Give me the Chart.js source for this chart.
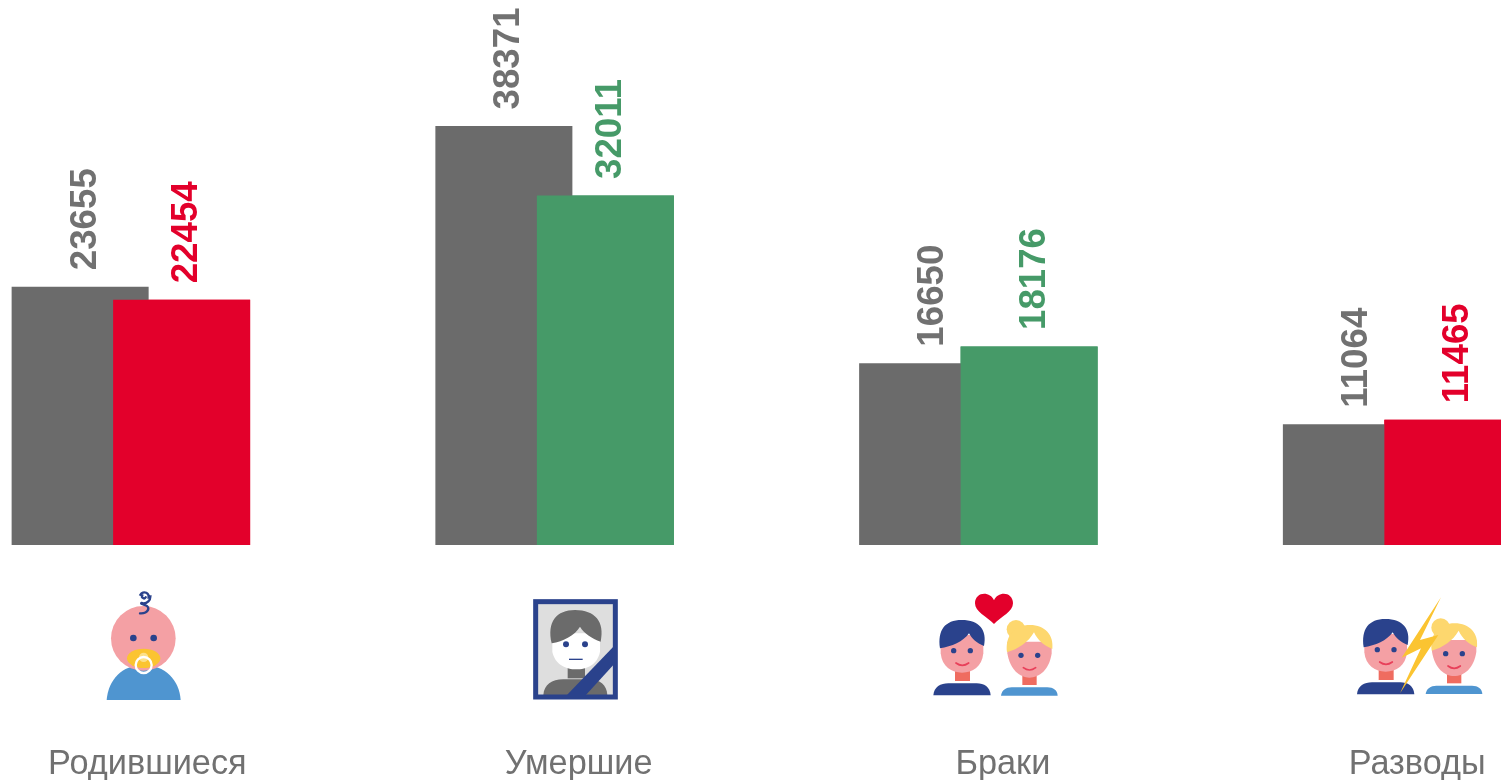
<!DOCTYPE html>
<html>
<head>
<meta charset="utf-8">
<style>
  html, body { margin: 0; padding: 0; width: 1501px; height: 780px; overflow: hidden; background: #fff; }
  #chart { position: absolute; left: -81px; top: -1px; }
</style>
</head>
<body>
<canvas id="chart" width="1695" height="781"></canvas>
<script src="https://cdn.jsdelivr.net/npm/chart.js@4"></script>
<script>
// data
const categories = ["Родившиеся", "Умершие", "Браки", "Разводы"];
const previousValues = [23655, 38371, 16650, 11064];
const currentValues = [22454, 32011, 18176, 11465];

const GREY = "#6b6b6b";
const GREY_TEXT = "#717171";
const RED = "#e3002b";
const GREEN = "#469a68";
const NAVY = "#2a428c";
const BLUE = "#4f95d0";
const SKIN = "#f4a0a4";
const NECK = "#ef6c60";
const YELLOW = "#fbc431";
const BLOND = "#fdd76e";

const currentColors = [RED, GREEN, GREEN, RED];
const labelShift = [16.5, 24, 24.5, 15];

// small helpers for the icons, which are drawn in 3x units
function shape(ctx, color, draw) {
  ctx.fillStyle = color;
  ctx.beginPath();
  draw();
  ctx.fill();
}

function dot(ctx, color, x, y, r) {
  shape(ctx, color, () => ctx.arc(x, y, r, 0, Math.PI * 2));
}

function smile(ctx, x1, x2, y) {
  ctx.strokeStyle = "#e8405a";
  ctx.lineWidth = 5;
  ctx.lineCap = "round";
  ctx.beginPath();
  ctx.moveTo(x1, y);
  ctx.quadraticCurveTo((x1 + x2) / 2, y + 14, x2, y);
  ctx.stroke();
}

function drawMan(ctx) {
  shape(ctx, NECK, () => ctx.rect(105, 255, 45, 33));
  shape(ctx, NAVY, () => {
    ctx.moveTo(40, 331);
    ctx.bezierCurveTo(42, 305, 62, 295, 85, 295);
    ctx.lineTo(170, 295);
    ctx.bezierCurveTo(192, 295, 210, 305, 212, 331);
    ctx.closePath();
  });
  shape(ctx, SKIN, () => {
    ctx.moveTo(62, 150);
    ctx.lineTo(62, 205);
    ctx.bezierCurveTo(66, 245, 95, 263, 126, 263);
    ctx.bezierCurveTo(158, 263, 186, 245, 190, 205);
    ctx.lineTo(190, 150);
    ctx.closePath();
  });
  shape(ctx, NAVY, () => {
    ctx.moveTo(60, 190);
    ctx.bezierCurveTo(52, 135, 75, 105, 125, 105);
    ctx.bezierCurveTo(178, 105, 202, 135, 192, 183);
    ctx.bezierCurveTo(170, 175, 155, 160, 147, 145);
    ctx.bezierCurveTo(130, 170, 95, 185, 60, 190);
    ctx.closePath();
  });
  dot(ctx, NAVY, 101, 197, 8);
  dot(ctx, NAVY, 151, 197, 8);
  smile(ctx, 108, 146, 234);
}

function drawWoman(ctx) {
  shape(ctx, NECK, () => ctx.rect(307, 268, 43, 32));
  shape(ctx, BLUE, () => {
    ctx.moveTo(243, 332);
    ctx.bezierCurveTo(245, 316, 258, 307, 275, 307);
    ctx.lineTo(382, 307);
    ctx.bezierCurveTo(400, 307, 412, 316, 413, 332);
    ctx.closePath();
  });
  shape(ctx, SKIN, () => {
    ctx.moveTo(262, 170);
    ctx.lineTo(262, 205);
    ctx.bezierCurveTo(270, 255, 300, 278, 328, 278);
    ctx.bezierCurveTo(358, 278, 388, 255, 395, 205);
    ctx.lineTo(395, 170);
    ctx.closePath();
  });
  dot(ctx, BLOND, 288, 133, 28);
  shape(ctx, BLOND, () => {
    ctx.moveTo(261, 202);
    ctx.bezierCurveTo(255, 150, 285, 120, 330, 120);
    ctx.bezierCurveTo(375, 120, 402, 150, 397, 192);
    ctx.bezierCurveTo(372, 182, 352, 165, 342, 142);
    ctx.bezierCurveTo(325, 172, 295, 192, 261, 202);
    ctx.closePath();
  });
  dot(ctx, NAVY, 303, 211, 8);
  dot(ctx, NAVY, 353, 211, 8);
  smile(ctx, 310, 347, 248);
}

function drawBaby(ctx) {
  shape(ctx, BLUE, () => {
    ctx.moveTo(50, 360);
    ctx.bezierCurveTo(55, 300, 95, 255, 160, 255);
    ctx.bezierCurveTo(225, 255, 268, 300, 272, 360);
    ctx.closePath();
  });
  dot(ctx, SKIN, 160, 175, 97);
  dot(ctx, NAVY, 130, 174, 10);
  dot(ctx, NAVY, 191, 174, 10);
  // pacifier
  shape(ctx, YELLOW, () => ctx.ellipse(161, 235, 50, 29, 0, 0, Math.PI * 2));
  dot(ctx, "#fce08a", 161, 232, 14);
  ctx.strokeStyle = "#fff";
  ctx.lineWidth = 7;
  ctx.beginPath();
  ctx.arc(161, 255, 24, 0, Math.PI * 2);
  ctx.stroke();
  // curl
  ctx.strokeStyle = NAVY;
  ctx.lineWidth = 7;
  ctx.lineCap = "round";
  ctx.beginPath();
  ctx.arc(162, 49, 6, 0.5, 3.6);
  ctx.arc(163, 50, 13, 3.6, 6.4);
  ctx.arc(161, 50, 20, 0, 1.9);
  ctx.bezierCurveTo(148, 74, 174, 72, 175, 85);
  ctx.bezierCurveTo(175, 97, 160, 101, 150, 100);
  ctx.stroke();
}

function drawPortrait(ctx) {
  shape(ctx, "#dedede", () => ctx.rect(47, 35, 239, 286));
  shape(ctx, "#6b6b6b", () => {
    ctx.moveTo(70, 315);
    ctx.bezierCurveTo(72, 285, 95, 268, 130, 268);
    ctx.lineTo(205, 268);
    ctx.bezierCurveTo(240, 268, 260, 285, 262, 315);
    ctx.closePath();
  });
  shape(ctx, "#6b6b6b", () => ctx.rect(143, 225, 52, 40));
  shape(ctx, "#fff", () => {
    ctx.moveTo(97, 130);
    ctx.lineTo(97, 185);
    ctx.bezierCurveTo(105, 225, 140, 238, 168, 238);
    ctx.bezierCurveTo(200, 238, 232, 225, 240, 185);
    ctx.lineTo(240, 130);
    ctx.closePath();
  });
  shape(ctx, "#6b6b6b", () => {
    ctx.moveTo(95, 160);
    ctx.bezierCurveTo(80, 95, 110, 60, 165, 60);
    ctx.bezierCurveTo(225, 60, 255, 95, 242, 155);
    ctx.bezierCurveTo(215, 145, 192, 130, 180, 110);
    ctx.bezierCurveTo(165, 135, 130, 155, 95, 160);
    ctx.closePath();
  });
  dot(ctx, NAVY, 138, 163, 9);
  dot(ctx, NAVY, 195, 163, 9);
  ctx.strokeStyle = NAVY;
  ctx.lineWidth = 4;
  ctx.beginPath();
  ctx.moveTo(147, 208);
  ctx.lineTo(188, 208);
  ctx.stroke();
  shape(ctx, NAVY, () => {
    ctx.moveTo(138, 318);
    ctx.lineTo(280, 170);
    ctx.lineTo(280, 225);
    ctx.lineTo(195, 318);
    ctx.closePath();
  });
  ctx.strokeStyle = NAVY;
  ctx.lineWidth = 15;
  ctx.strokeRect(47, 35, 239, 286);
}

function drawCouple(ctx) {
  shape(ctx, RED, () => {
    ctx.moveTo(222, 117);
    ctx.bezierCurveTo(200, 95, 165, 80, 165, 55);
    ctx.bezierCurveTo(165, 20, 210, 17, 222, 46);
    ctx.bezierCurveTo(234, 17, 279, 20, 279, 55);
    ctx.bezierCurveTo(279, 80, 244, 95, 222, 117);
    ctx.closePath();
  });
  drawMan(ctx);
  drawWoman(ctx);
}

function drawDivorce(ctx) {
  ctx.save();
  ctx.translate(-4, -18);
  drawMan(ctx);
  ctx.restore();
  ctx.save();
  ctx.translate(-1, -20);
  drawWoman(ctx);
  ctx.restore();
  shape(ctx, YELLOW, () => {
    ctx.moveTo(288, 22);
    ctx.lineTo(170, 203);
    ctx.lineTo(228, 175);
    ctx.lineTo(165, 310);
    ctx.lineTo(280, 135);
    ctx.lineTo(225, 150);
    ctx.closePath();
  });
}

const icons = [
  { x: 90, y: 580, draw: drawBaby },
  { x: 520, y: 590, draw: drawPortrait },
  { x: 920, y: 585, draw: drawCouple },
  { x: 1345, y: 590, draw: drawDivorce }
];

// value labels, icons and category names
const decorations = {
  id: "decorations",
  afterDatasetsDraw(chart) {
    const ctx = chart.ctx;

    // the coloured bars have to sit above the grey ones
    chart.getDatasetMeta(1).controller.draw();

    // rotated value labels
    ctx.save();
    ctx.font = "bold 36.7px 'Liberation Sans'";
    ctx.textAlign = "left";
    ctx.textBaseline = "alphabetic";
    [previousValues, currentValues].forEach((values, d) => {
      chart.getDatasetMeta(d).data.forEach((bar, i) => {
        ctx.save();
        ctx.translate(bar.x + 15.5, bar.y - 16.5);
        ctx.rotate(-Math.PI / 2);
        ctx.fillStyle = d === 0 ? GREY_TEXT : currentColors[i];
        ctx.fillText(values[i], 0, 0);
        ctx.restore();
      });
    });
    ctx.restore();

    // category names
    ctx.save();
    ctx.font = "34.3px 'Liberation Sans'";
    ctx.textAlign = "center";
    ctx.textBaseline = "alphabetic";
    ctx.fillStyle = GREY_TEXT;
    categories.forEach((name, i) => {
      ctx.fillText(name, chart.scales.x.getPixelForValue(i) + labelShift[i], 775);
    });
    ctx.restore();

    // icons, in page position
    icons.forEach(icon => {
      ctx.save();
      ctx.translate(81 + icon.x, 1 + icon.y);
      ctx.scale(1 / 3, 1 / 3);
      icon.draw(ctx);
      ctx.restore();
    });
  }
};

new Chart(document.getElementById("chart"), {
  type: "bar",
  data: {
    labels: categories,
    datasets: [
      { data: previousValues, backgroundColor: GREY },
      { data: currentValues, backgroundColor: currentColors }
    ]
  },
  options: {
    responsive: false,
    animation: false,
    // wider than one slot on purpose, so the two bars overlap
    datasets: { bar: { categoryPercentage: 0.479, barPercentage: 1.35 } },
    layout: { padding: { bottom: 235 } },
    plugins: { legend: { display: false }, tooltip: { enabled: false } },
    scales: {
      x: { display: false },
      y: { display: false, min: 0, max: 50000 }
    }
  },
  plugins: [decorations]
});
</script>
</body>
</html>
